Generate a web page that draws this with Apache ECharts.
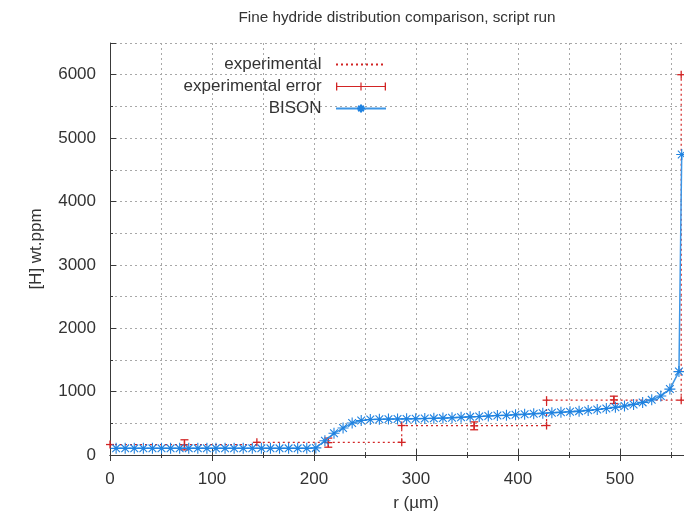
<!DOCTYPE html>
<html>
<head>
<meta charset="utf-8">
<script src="https://cdn.jsdelivr.net/npm/echarts@6/dist/echarts.min.js"></script>
<style>
  html, body { margin: 0; padding: 0; background: #fff; }
  #chart { width: 684px; height: 519px; }
</style>
</head>
<body>
<div id="chart"></div>
<script>
// experimental profile (steps), edges in um and H in wt.ppm
const expR = [0, 144, 286, 428, 560]
const expH = [165, 200, 465, 865, 6000]

// experimental points with error bars: r, H, +/- error
const errR = [0, 73, 144, 214, 286, 286, 357, 428, 428, 494, 560, 560]
const errH = [165, 160, 200, 195, 200, 465, 460, 465, 865, 870, 865, 6000]
const errD = [0, 80, 0, 72, 0, 0, 62, 0, 0, 58, 0, 0]

// BISON computed profile
const bisonR = [6, 14.9, 23.8, 32.7, 41.6, 50.5, 59.4, 68.3, 77.2, 86.1, 95, 103.9, 112.8, 121.7,
  130.6, 139.5, 148.4, 157.3, 166.2, 175.1, 184, 192.9, 201.8, 210.7, 219.6, 228.5, 237.4, 246.3,
  255.2, 264.1, 273, 281.9, 290.8, 299.7, 308.6, 317.5, 326.4, 335.3, 344.2, 353.1, 362, 370.9,
  379.8, 388.7, 397.6, 406.5, 415.4, 424.3, 433.2, 442.1, 451, 459.9, 468.8, 477.7, 486.6, 495.5,
  504.4, 513.3, 522.2, 531.1, 540, 548.9, 557.8, 560.5]
const bisonH = [105, 105, 105, 105, 105, 105, 105, 105, 105, 105, 105, 105, 105, 105,
  105, 105, 105, 105, 105, 105, 105, 105, 112, 226, 342, 425, 505, 545,
  560, 565, 566, 568, 570, 572, 575, 578, 582, 588, 595, 602, 608, 615,
  622, 628, 635, 642, 650, 658, 666, 674, 682, 692, 704, 718, 734, 752,
  772, 798, 830, 870, 930, 1040, 1316, 4740]

const xTicks = [0, 100, 200, 300, 400, 500]
const yTicks = [0, 1000, 2000, 3000, 4000, 5000, 6000]

const red = '#d22424'
const blue = '#1f82e0'
const font = 'Liberation Sans'
const gridLine = { show: true, lineStyle: { color: '#a8a8a8', type: [2, 3], width: 1 } }
const axisCol = '#3a3a3a'

let expData = expR.map((r, i) => [r, expH[i]])
let errData = errR.map((r, i) => [r, errH[i], errD[i]])
let bisonData = bisonR.map((r, i) => [r, bisonH[i]])

let echart = echarts.init(document.getElementById('chart'))
let option = {
  animation: false,
  backgroundColor: '#fff',
  textStyle: { fontFamily: font },
  title: {
    text: 'Fine hydride distribution comparison, script run',
    left: 397,
    top: 10,
    padding: 0,
    textAlign: 'center',
    textStyle: { fontSize: 15.3, fontWeight: 'normal', color: '#333', fontFamily: font }
  },
  legend: {
    orient: 'vertical',
    align: 'right',
    right: 292,
    top: 51,
    itemWidth: 50,
    itemHeight: 10,
    itemGap: 5,
    formatter: function (name) {
      return name + '  '
    },
    textStyle: { fontSize: 17, color: '#333', fontFamily: font },
    data: [
      // no marker on the dotted sample
      { name: 'experimental', itemStyle: { opacity: 0 } },
      {
        name: 'experimental error',
        icon: 'path://M0 4.4L50 4.4L50 5.6L0 5.6ZM0 1L1.3 1L1.3 9L0 9ZM24.4 1L25.6 1L25.6 9L24.4 9ZM48.7 1L50 1L50 9L48.7 9Z'
      },
      { name: 'BISON' }
    ]
  },
  grid: {
    left: 110,
    top: 43,
    width: 612,
    bottom: 64,
    outerBoundsMode: 'none'
  },
  xAxis: [
    {
      type: 'value',
      min: 0,
      max: 600,
      interval: 100,
      name: 'r (µm)',
      nameLocation: 'middle',
      nameGap: 40,
      nameTextStyle: { fontSize: 17, color: '#333', fontFamily: font },
      axisLine: { show: true, lineStyle: { color: axisCol } },
      axisTick: { show: true, inside: true, length: 6, lineStyle: { color: axisCol } },
      minorTick: { show: true, splitNumber: 2, length: 3, lineStyle: { color: axisCol } },
      axisLabel: {
        margin: 16,
        fontSize: 17,
        color: '#333',
        fontFamily: font,
        formatter: function (v) {
          return xTicks.indexOf(v) >= 0 ? String(v) : ''
        }
      },
      splitLine: gridLine,
      minorSplitLine: gridLine
    },
    {
      type: 'value',
      position: 'top',
      min: 0,
      max: 600,
      interval: 100,
      axisLine: { show: true, lineStyle: { color: axisCol } },
      axisTick: { show: true, inside: true, length: 6, lineStyle: { color: axisCol } },
      minorTick: { show: true, splitNumber: 2, length: 3, lineStyle: { color: axisCol } },
      axisLabel: { show: false },
      splitLine: { show: false }
    }
  ],
  yAxis: [
    {
      type: 'value',
      min: 0,
      max: 6500,
      interval: 500,
      name: '[H] wt.ppm',
      nameLocation: 'middle',
      nameGap: 65,
      nameTextStyle: { fontSize: 17, color: '#333', fontFamily: font },
      axisLine: { show: true, lineStyle: { color: axisCol } },
      axisTick: { show: true, inside: true, length: 3, lineStyle: { color: axisCol } },
      axisLabel: {
        margin: 14,
        fontSize: 17,
        color: '#333',
        fontFamily: font,
        formatter: function (v) {
          return yTicks.indexOf(v) >= 0 ? String(v) : ''
        }
      },
      splitLine: gridLine
    },
    {
      // longer ticks at the labelled values
      type: 'value',
      position: 'left',
      min: 0,
      max: 6500,
      interval: 1000,
      axisLine: { show: false },
      axisTick: { show: true, inside: true, length: 6, lineStyle: { color: axisCol } },
      axisLabel: { show: false },
      splitLine: { show: false }
    }
  ],
  series: [
    {
      name: 'experimental',
      type: 'line',
      step: 'end',
      data: expData,
      symbol: 'circle',
      showSymbol: false,
      itemStyle: { color: red },
      lineStyle: { color: red, width: 1.2, type: [2, 3] },
      z: 3
    },
    {
      name: 'experimental error',
      type: 'custom',
      data: errData,
      encode: { x: 0, y: 1 },
      itemStyle: { color: red },
      clip: false,
      z: 4,
      renderItem: function (params, api) {
        let r = api.value(0)
        let h = api.value(1)
        let d = api.value(2)
        let c = api.coord([r, h])
        let style = { stroke: red, lineWidth: 1.3 }
        let w = 4
        let seg = function (x1, y1, x2, y2) {
          return { type: 'line', shape: { x1: x1, y1: y1, x2: x2, y2: y2 }, style: style }
        }
        let children = [
          seg(c[0] - w, c[1], c[0] + w, c[1]),
          seg(c[0], c[1] - w, c[0], c[1] + w)
        ]
        if (d > 0) {
          let hi = api.coord([r, h + d])
          let lo = api.coord([r, h - d])
          children.push(seg(hi[0], hi[1], lo[0], lo[1]))
          children.push(seg(hi[0] - w, hi[1], hi[0] + w, hi[1]))
          children.push(seg(lo[0] - w, lo[1], lo[0] + w, lo[1]))
        }
        return { type: 'group', children: children }
      }
    },
    {
      name: 'BISON',
      type: 'line',
      data: bisonData,
      symbol: 'path://M0 5L10 5M5 0L5 10M1.5 1.5L8.5 8.5M8.5 1.5L1.5 8.5',
      symbolSize: 11,
      showAllSymbol: true,
      itemStyle: { color: blue, borderColor: blue, borderWidth: 1.1 },
      lineStyle: { color: '#3d96e6', width: 1.5 },
      z: 5
    }
  ]
}
echart.setOption(option)
window.addEventListener('resize', function () {
  echart.resize()
})
</script>
</body>
</html>
